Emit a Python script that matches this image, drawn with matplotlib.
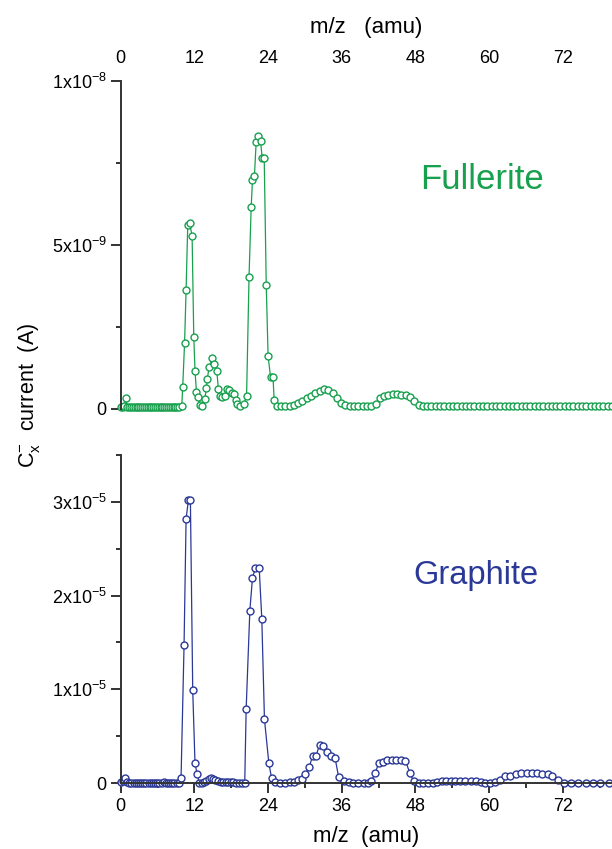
import matplotlib
matplotlib.use('Agg')
import matplotlib.pyplot as plt
from matplotlib.ticker import MultipleLocator, FixedLocator

plt.rcParams['font.family'] = 'Liberation Sans'
plt.rcParams['mathtext.fontset'] = 'custom'
plt.rcParams['mathtext.rm'] = 'Liberation Sans'
plt.rcParams['mathtext.it'] = 'Liberation Sans:italic'

# fullerite, current in units of 1e-9 A
full_mz = [0.0, 0.3, 0.6, 0.8, 1.1, 1.4, 1.7, 2.0, 2.3, 2.6, 2.9, 3.2, 3.5, 3.8, 4.1, 4.4, 4.7,
           5.0, 5.3, 5.6, 5.9, 6.2, 6.5, 6.8, 7.1, 7.4, 7.7, 8.0, 8.3, 8.6, 8.9, 9.2, 9.5, 9.95,
           10.1, 10.4, 10.65, 10.92, 11.25, 11.63, 11.9, 12.1, 12.33, 12.6, 12.9, 13.3, 13.7,
           13.96, 14.1, 14.4, 14.94, 15.27, 15.65, 15.9, 16.2, 16.5, 16.95, 17.3, 17.7, 18.1,
           18.4, 18.7, 19.0, 19.45, 20.1, 20.5, 20.9, 21.25, 21.46, 21.78, 22.06, 22.4, 22.77,
           23.04, 23.37, 23.7, 24.0, 24.4, 24.8, 25.0,
           25.4, 26.1, 26.8, 27.5, 28.2, 28.9, 29.6, 30.3, 31.0, 31.7, 32.4, 33.1, 33.8, 34.5,
           35.2, 35.9, 36.6, 37.3, 38.0, 38.7, 39.4, 40.1, 40.8, 41.5, 42.2, 42.9, 43.6, 44.3,
           45.0, 45.7, 46.4, 47.1, 47.8, 48.5, 49.2, 49.9, 50.6, 51.3, 52.0, 52.7, 53.4, 54.1,
           54.8, 55.5, 56.2, 56.9, 57.6, 58.3, 59.0, 59.7, 60.4, 61.1, 61.8, 62.5, 63.2, 63.9,
           64.6, 65.3, 66.0, 66.7, 67.4, 68.1, 68.8, 69.5, 70.2, 70.9, 71.6, 72.3, 73.0, 73.7,
           74.4, 75.1, 75.8, 76.5, 77.2, 77.9, 78.6, 79.3, 80.0]
full_cur = [0.05, 0.05, 0.08, 0.34, 0.06, 0.05, 0.05, 0.05, 0.05, 0.05, 0.05, 0.05, 0.05, 0.05,
            0.05, 0.05, 0.05, 0.05, 0.05, 0.05, 0.05, 0.05, 0.05, 0.05, 0.05, 0.05, 0.05, 0.05,
            0.05, 0.05, 0.05, 0.05, 0.05, 0.1,
            0.67, 2.0, 3.62, 5.6, 5.65, 5.26, 2.2, 1.17, 0.53, 0.35, 0.13, 0.1, 0.3,
            0.65, 0.92, 1.27, 1.55, 1.36, 1.17, 0.62, 0.4, 0.35, 0.39, 0.6, 0.58, 0.48,
            0.45, 0.28, 0.15, 0.1, 0.16, 0.41, 4.03, 6.16, 6.97, 7.1, 8.13, 8.32, 8.17,
            7.64, 7.64, 3.79, 1.62, 0.97, 0.97, 0.26,
            0.1, 0.1, 0.1, 0.1, 0.12, 0.17, 0.25, 0.32, 0.4, 0.49, 0.56, 0.6, 0.58, 0.48,
            0.32, 0.18, 0.11, 0.1, 0.1, 0.1, 0.1, 0.1, 0.1, 0.14, 0.33, 0.41, 0.44, 0.45,
            0.45, 0.44, 0.42, 0.36, 0.24, 0.12, 0.1, 0.1, 0.1, 0.1, 0.1, 0.1, 0.1, 0.1,
            0.1, 0.1, 0.1, 0.1, 0.1, 0.1, 0.1, 0.1, 0.1, 0.1, 0.1, 0.1, 0.1, 0.1,
            0.1, 0.1, 0.1, 0.1, 0.1, 0.1, 0.1, 0.1, 0.1, 0.1, 0.1, 0.1, 0.1, 0.1,
            0.1, 0.1, 0.1, 0.1, 0.1, 0.1, 0.1, 0.1, 0.1]

# graphite, current in units of 1e-5 A
graph_mz = [0.0, 0.35, 0.75, 1.05, 1.4, 1.75, 2.1, 2.45, 2.8, 3.15, 3.5, 3.85, 4.2, 4.55, 4.9,
            5.25, 5.6, 5.95, 6.3, 6.65, 7.0, 7.35, 7.7, 8.05, 8.4, 8.75, 9.1, 9.45, 9.83,
            10.32, 10.65, 11.03, 11.35, 11.73, 12.1, 12.44, 12.8, 13.2, 13.6, 13.9, 14.3, 14.7,
            15.1, 15.4, 15.9, 16.3, 16.7, 17.1, 17.5, 17.9, 18.3, 18.8, 19.3, 19.8, 20.2,
            20.43, 21.03, 21.46, 21.9, 22.55, 22.98, 23.41, 24.13, 24.56, 25.2, 26.0, 26.8,
            27.6, 28.26, 28.8, 29.5, 30.05, 30.7, 31.25, 31.8, 32.4, 32.93, 33.6, 34.2, 34.9,
            35.5, 36.3, 37.1, 37.9, 38.7, 39.6, 40.2, 40.8, 41.46, 42.0, 42.7, 43.4, 44.2,
            44.9, 45.65, 46.36, 47.06, 47.7, 48.5, 49.2, 50.05, 50.9, 51.5, 52.3, 53.0, 53.8,
            54.5, 55.3, 56.1, 57.0, 57.8, 58.6, 59.4, 60.2, 61.0, 61.8, 62.5, 63.4, 64.3,
            65.2, 66.1, 67.0, 67.8, 68.65, 69.5, 70.3, 71.25, 72.2, 73.3, 74.5, 75.7, 76.9,
            78.1, 79.5]
graph_cur = [0.01, 0.02, 0.05, 0.01, 0.005, 0.005, 0.005, 0.005, 0.005, 0.005, 0.005, 0.005,
             0.005, 0.005, 0.005, 0.005, 0.005, 0.005, 0.005, 0.005, 0.008, 0.005, 0.005,
             0.005, 0.005, 0.005, 0.005, 0.005, 0.057,
             1.476, 2.82, 3.02, 3.02, 0.99, 0.21, 0.10, 0.0, 0.005, 0.01, 0.02, 0.04, 0.05,
             0.045, 0.03, 0.02, 0.01, 0.01, 0.01, 0.01, 0.01, 0.01, 0.005, 0.005, 0.005, 0.005,
             0.79, 1.84, 2.19, 2.29, 2.30, 1.75, 0.68, 0.21, 0.057, 0.01, 0.005, 0.005,
             0.01, 0.014, 0.03, 0.04, 0.093, 0.17, 0.29, 0.29, 0.41, 0.39, 0.33, 0.29, 0.27,
             0.06, 0.02, 0.01, 0.005, 0.005, 0.005, 0.005, 0.02, 0.11, 0.21, 0.22, 0.25, 0.25,
             0.25, 0.25, 0.24, 0.11, 0.02, 0.0, 0.0, 0.0, 0.0, 0.01, 0.02, 0.02, 0.02,
             0.02, 0.02, 0.02, 0.02, 0.02, 0.015, 0.005, 0.005, 0.01, 0.03, 0.07, 0.07, 0.10,
             0.11, 0.11, 0.11, 0.11, 0.10, 0.10, 0.07, 0.03, 0.005, 0.005, 0.005, 0.005, 0.005,
             0.005, 0.005]

green = '#17a04e'
blue = '#2a3898'
axcol = '#333333'
mz_ticks = [0, 12, 24, 36, 48, 60, 72]

fig = plt.figure(figsize=(6.12, 8.49), dpi=100)
ax1 = fig.add_axes([0.1972, 0.5183, 0.8028, 0.3867])
ax2 = fig.add_axes([0.1972, 0.0777, 0.8028, 0.3863])

# top panel - fullerite
ax1.plot(full_mz, [v * 1e-9 for v in full_cur], '-o', color=green, lw=0.9, ms=5,
         mfc='white', mec=green, mew=1.0, clip_on=False)
ax1.set_xlim(0, 80)
ax1.set_ylim(0, 1e-8)
ax1.xaxis.set_ticks_position('top')
ax1.xaxis.set_label_position('top')
ax1.set_xticks(mz_ticks)
ax1.tick_params(axis='x', length=0, pad=10, labelsize=13)
ax1.set_xlabel('m/z   (amu)', fontsize=16, labelpad=12)
ax1.set_yticks([0, 5e-9, 1e-8])
ax1.set_yticklabels(['0', r'5x10$^{-9}$', r'1x10$^{-8}$'])
ax1.yaxis.set_minor_locator(FixedLocator([2.5e-9, 7.5e-9]))
for s in ['top', 'right', 'bottom']:
    ax1.spines[s].set_visible(False)
ax1.text(48.8, 7.0e-9, 'Fullerite', color=green, fontsize=25, va='center')

# bottom panel - graphite
ax2.plot(graph_mz, [v * 1e-5 for v in graph_cur], '-o', color=blue, lw=0.9, ms=5,
         mfc='white', mec=blue, mew=1.0, clip_on=False)
ax2.set_xlim(0, 80)
ax2.set_ylim(0, 3.5e-5)
ax2.set_xticks(mz_ticks)
ax2.xaxis.set_minor_locator(MultipleLocator(6))
ax2.tick_params(axis='x', labelsize=13, pad=4)
ax2.set_xlabel('m/z  (amu)', fontsize=16, labelpad=8)
ax2.set_yticks([0, 1e-5, 2e-5, 3e-5])
ax2.set_yticklabels(['0', r'1x10$^{-5}$', r'2x10$^{-5}$', r'3x10$^{-5}$'])
ax2.yaxis.set_minor_locator(FixedLocator([0.5e-5, 1.5e-5, 2.5e-5, 3.5e-5]))
for s in ['top', 'right']:
    ax2.spines[s].set_visible(False)
ax2.text(47.7, 2.22e-5, 'Graphite', color=blue, fontsize=23.5, va='center')

for ax in (ax1, ax2):
    for s in ax.spines.values():
        s.set_color(axcol)
        s.set_linewidth(1.4)
    ax.tick_params(which='major', direction='out', length=7, width=1.4, color=axcol)
    ax.tick_params(which='minor', direction='out', length=3.5, width=1.4, color=axcol)
    ax.tick_params(axis='y', labelsize=13, pad=3)
ax1.tick_params(axis='x', length=0)

fig.text(0.047, 0.534, r'C$_\mathregular{x}^\mathregular{-}$  current  (A)', rotation=90,
         ha='center', va='center', fontsize=15.5)

plt.savefig('out.png', dpi=100)
